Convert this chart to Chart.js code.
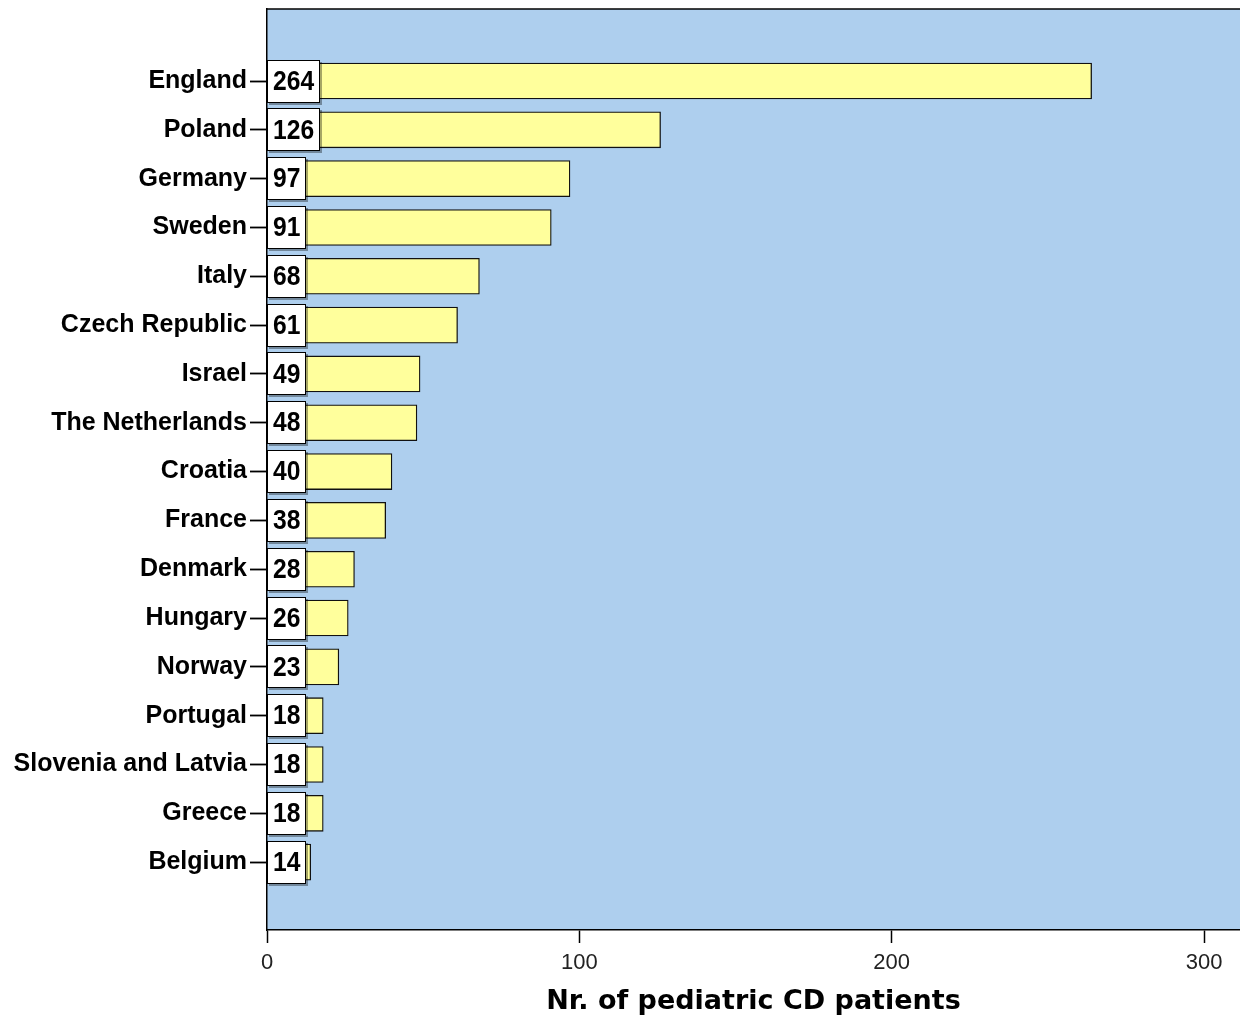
<!DOCTYPE html>
<html>
<head>
<meta charset="utf-8">
<title>Pediatric CD patients by country</title>
<script src="https://cdn.jsdelivr.net/npm/chart.js@4.4.1/dist/chart.umd.min.js"></script>
<style>
  html, body { margin: 0; padding: 0; background: #fff; }
  #wrap { width: 1240px; height: 1018px; }
</style>
</head>
<body>
<div id="wrap"><canvas id="chart" width="1240" height="1018"></canvas></div>
<script>
const countries = [
  'England', 'Poland', 'Germany', 'Sweden', 'Italy', 'Czech Republic',
  'Israel', 'The Netherlands', 'Croatia', 'France', 'Denmark', 'Hungary',
  'Norway', 'Portugal', 'Slovenia and Latvia', 'Greece', 'Belgium',
];
const patients = [264, 126, 97, 91, 68, 61, 49, 48, 40, 38, 28, 26, 23, 18, 18, 18, 14];
const xTicks = [0, 100, 200, 300];

const PLOT_BG = '#aecfee';
const BAR_FILL = '#ffff9c';

// Fill the plot area and draw its top edge (the right edge runs off the canvas).
const plotFrame = {
  id: 'plotFrame',
  beforeDraw(chart) {
    const { ctx, chartArea: a } = chart;
    ctx.save();
    ctx.fillStyle = PLOT_BG;
    ctx.fillRect(a.left, a.top, a.right - a.left, a.bottom - a.top);
    ctx.strokeStyle = '#000';
    ctx.lineWidth = 1.5;
    ctx.beginPath();
    ctx.moveTo(a.left, a.top);
    ctx.lineTo(a.right, a.top);
    ctx.stroke();
    ctx.restore();
  },
};

// White value boxes sitting at the base of each bar.
// The digits are a horizontally squeezed bold sans, like the narrow font in the original.
const SQUEEZE = 0.88;
const valueBoxes = {
  id: 'valueBoxes',
  afterDatasetsDraw(chart) {
    const { ctx } = chart;
    const x0 = chart.scales.x.getPixelForValue(0);
    const meta = chart.getDatasetMeta(0);
    ctx.save();
    ctx.font = 'bold 28px "Liberation Sans", Arial, sans-serif';
    ctx.textBaseline = 'middle';
    ctx.textAlign = 'left';
    meta.data.forEach((bar, i) => {
      const txt = String(patients[i]);
      const tw = ctx.measureText(txt).width * SQUEEZE;
      const w = Math.round(tw) + 12;
      const h = 43;
      const top = Math.round(bar.y - h / 2);
      ctx.fillStyle = 'rgba(0,0,0,0.35)';
      ctx.fillRect(x0 + 2, top + 2, w, h);
      ctx.fillStyle = '#fff';
      ctx.fillRect(x0, top, w, h);
      ctx.strokeStyle = '#000';
      ctx.lineWidth = 1;
      ctx.strokeRect(x0 + 0.5, top + 0.5, w - 1, h - 1);
      ctx.fillStyle = '#000';
      ctx.save();
      ctx.translate(x0 + 6, bar.y + 1);
      ctx.scale(SQUEEZE, 1);
      ctx.fillText(txt, 0, 0);
      ctx.restore();
    });
    ctx.restore();
  },
};

new Chart(document.getElementById('chart'), {
  type: 'bar',
  data: {
    datasets: [{
      data: patients.map((v, i) => ({ x: v, y: i })),
      backgroundColor: BAR_FILL,
      borderColor: '#111',
      borderWidth: 1.3,
      borderSkipped: false,
      barThickness: 36,
    }],
  },
  options: {
    indexAxis: 'y',
    responsive: false,
    animation: false,
    layout: { padding: { top: 9, right: 0, left: 0, bottom: 0 } },
    plugins: {
      legend: { display: false },
      tooltip: { enabled: false },
    },
    scales: {
      x: {
        type: 'linear',
        min: 0,
        max: 311.5,
        afterBuildTicks: (axis) => { axis.ticks = xTicks.map((v) => ({ value: v })); },
        afterFit: (axis) => { axis.height = 88; },
        border: { color: '#000', width: 1.5 },
        grid: { drawOnChartArea: false, tickLength: 13, tickColor: '#000', tickWidth: 1.5 },
        ticks: {
          color: '#222',
          padding: 7,
          maxRotation: 0,
          font: { family: '"Liberation Sans", Arial, sans-serif', size: 22 },
        },
        title: {
          display: true,
          text: 'Nr. of pediatric CD patients',
          color: '#000',
          padding: { top: 0, bottom: 0 },
          font: { family: '"DejaVu Sans", Verdana, sans-serif', size: 27, weight: 'bold' },
        },
      },
      y: {
        type: 'linear',
        reverse: true,
        offset: false,
        min: -1.475,
        max: 17.39,
        afterBuildTicks: (axis) => { axis.ticks = countries.map((_, i) => ({ value: i })); },
        afterFit: (axis) => {
          axis.width = 267;
          axis.paddingTop = 0;
          axis.paddingBottom = 0;
        },
        border: { color: '#000', width: 1.5 },
        grid: { offset: false, drawOnChartArea: false, tickLength: 17, tickColor: '#000', tickWidth: 1.8 },
        ticks: {
          color: '#000',
          padding: 3,
          autoSkip: false,
          callback: (v) => countries[v] ?? '',
          font: { family: '"Liberation Sans", Arial, sans-serif', size: 25, weight: 'bold' },
        },
      },
    },
  },
  plugins: [plotFrame, valueBoxes],
});
</script>
</body>
</html>
